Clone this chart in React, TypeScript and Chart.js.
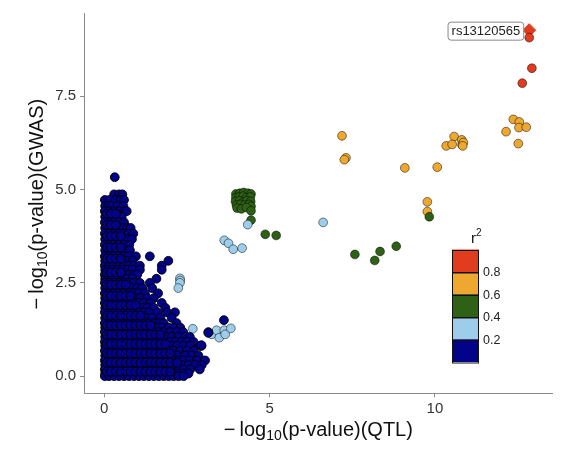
import React, { useEffect, useRef } from "react";
import { Chart, registerables } from "chart.js";

Chart.register(...registerables);

// ---------- data ----------
const xTicks = [0, 5, 10];
const yTicks = [0, 2.5, 5, 7.5];
const legendLabels = ["0.8", "0.6", "0.4", "0.2"];
const leadSnpName = "rs13120565";

const NAVY = "#03038A";
const SKY = "#9DCDEA";
const GREEN = "#2E6116";
const ORANGE = "#EEA82F";
const RED = "#E23C1F";
const legendColors = [RED, ORANGE, GREEN, SKY, NAVY];

// r2 < 0.2 : rows of [GWAS value, QTL values]
const navyRows: [number, number[]][] = [
  [5.33, [0.32]],
  [4.87, [0.3, 0.45, 0.55]],
  [4.72, [0.02, 0.16, 0.34, 0.5, 0.6]],
  [4.56, [0.03, 0.12, 0.22, 0.4, 0.58]],
  [4.42, [0.02, 0.15, 0.3, 0.46, 0.62, 0.68]],
  [4.27, [0.03, 0.12, 0.25, 0.4, 0.53]],
  [4.12, [0.02, 0.15, 0.3, 0.44, 0.6]],
  [3.97, [0.03, 0.12, 0.26, 0.4, 0.56, 0.7, 0.8]],
  [3.82, [0.02, 0.15, 0.3, 0.45, 0.6, 0.74, 0.88]],
  [3.67, [0.03, 0.12, 0.25, 0.41, 0.55, 0.7, 0.84]],
  [3.52, [0.02, 0.15, 0.3, 0.45, 0.6, 0.76]],
  [3.37, [0.03, 0.12, 0.25, 0.4, 0.55, 0.68, 0.78]],
  [3.21, [0.02, 0.15, 0.3, 0.45, 0.6, 0.74, 0.96, 1.38]],
  [3.09, [0.03, 0.12, 0.25, 0.4, 0.55, 0.7, 0.86, 1.94]],
  [2.96, [0.02, 0.15, 0.3, 0.45, 0.6, 0.75, 0.9, 1.08, 1.74]],
  [2.85, [0.03, 0.12, 0.25, 0.4, 0.55, 0.7, 0.85, 1.08, 1.74]],
  [2.72, [0.02, 0.15, 0.3, 0.45, 0.6, 0.75, 0.9, 1.0]],
  [2.61, [0.03, 0.12, 0.25, 0.4, 0.55, 0.7, 0.85, 1.58]],
  [2.5, [0.02, 0.15, 0.3, 0.45, 0.6, 0.75, 0.9, 1.08, 1.38]],
  [2.36, [0.03, 0.12, 0.25, 0.4, 0.55, 0.7, 0.85, 1.0, 1.15, 1.45]],
  [2.22, [0.02, 0.15, 0.3, 0.45, 0.6, 0.75, 0.9, 1.05, 1.23, 1.63]],
  [2.09, [0.03, 0.12, 0.25, 0.4, 0.55, 0.7, 0.93, 1.1, 1.3, 1.5]],
  [1.96, [0.02, 0.15, 0.3, 0.45, 0.6, 0.75, 0.9, 1.05, 1.2, 1.4, 1.74]],
  [1.83, [0.03, 0.12, 0.25, 0.4, 0.55, 0.7, 0.85, 1.0, 1.15, 1.3, 1.5, 1.85]],
  [1.71, [0.02, 0.15, 0.3, 0.45, 0.6, 0.75, 0.9, 1.05, 1.2, 1.36, 1.62, 1.9, 2.14]],
  [1.56, [0.03, 0.12, 0.25, 0.4, 0.55, 0.7, 0.85, 1.0, 1.15, 1.3, 1.45, 1.7, 2.04]],
  [1.42, [0.02, 0.15, 0.3, 0.45, 0.6, 0.75, 0.9, 1.05, 1.2, 1.35, 1.5, 1.66, 1.8, 2.19]],
  [1.3, [0.03, 0.12, 0.25, 0.4, 0.55, 0.7, 0.85, 1.0, 1.15, 1.3, 1.45, 1.6, 1.75, 1.95, 2.1, 2.3]],
  [1.18, [0.02, 0.15, 0.3, 0.45, 0.6, 0.75, 0.9, 1.05, 1.2, 1.35, 1.5, 1.65, 1.8, 2.0, 2.2, 2.39, 3.15]],
  [1.05, [0.03, 0.12, 0.25, 0.4, 0.55, 0.7, 0.85, 1.0, 1.15, 1.3, 1.45, 1.6, 1.75, 1.9, 2.05, 2.25, 2.45, 2.59]],
  [0.92, [0.02, 0.15, 0.3, 0.45, 0.6, 0.75, 0.9, 1.05, 1.2, 1.35, 1.5, 1.65, 1.8, 2.0, 2.15, 2.35, 2.5, 2.7]],
  [0.81, [0.03, 0.12, 0.25, 0.4, 0.55, 0.7, 0.85, 1.0, 1.15, 1.3, 1.45, 1.6, 1.75, 1.9, 2.05, 2.2, 2.4, 2.6, 2.89, 2.94]],
  [0.68, [0.02, 0.15, 0.3, 0.45, 0.6, 0.75, 0.9, 1.05, 1.2, 1.35, 1.5, 1.65, 1.8, 1.95, 2.1, 2.3, 2.5, 2.7]],
  [0.55, [0.03, 0.12, 0.25, 0.4, 0.55, 0.7, 0.85, 1.0, 1.15, 1.3, 1.45, 1.6, 1.75, 1.9, 2.05, 2.2, 2.45, 2.65, 2.85]],
  [0.42, [0.02, 0.15, 0.3, 0.45, 0.6, 0.75, 0.9, 1.05, 1.2, 1.35, 1.5, 1.65, 1.8, 1.95, 2.1, 2.25, 2.4, 2.59, 2.8, 3.05]],
  [0.3, [0.03, 0.12, 0.25, 0.4, 0.55, 0.7, 0.85, 1.0, 1.15, 1.3, 1.45, 1.6, 1.75, 1.9, 2.05, 2.2, 2.35, 2.55, 2.75, 2.95]],
  [0.18, [0.02, 0.15, 0.3, 0.45, 0.6, 0.75, 0.9, 1.05, 1.2, 1.35, 1.5, 1.65, 1.8, 1.95, 2.1, 2.25, 2.4, 2.6, 2.89]],
  [0.07, [0.03, 0.12, 0.25, 0.4, 0.55, 0.7, 0.85, 1.0, 1.15, 1.3, 1.45, 1.6, 1.75, 1.9, 2.05, 2.2, 2.39, 2.55]],
  [0.0, [0.02, 0.15, 0.3, 0.45, 0.6, 0.75, 0.9, 1.05, 1.2, 1.35, 1.5, 1.65, 1.8, 1.95, 2.1, 2.25, 2.4]],
];
// the densest part of the r2 < 0.2 cloud (low QTL values)
const navyDenseRows: [number, number[]][] = [
  [4.35, [0.08, 0.2, 0.35]],
  [4.05, [0.08, 0.2, 0.35]],
  [3.75, [0.08, 0.2, 0.35, 0.5]],
  [3.45, [0.08, 0.2, 0.35, 0.5]],
  [3.15, [0.08, 0.2, 0.35, 0.5]],
  [2.78, [0.08, 0.2, 0.35, 0.5]],
  [2.45, [0.08, 0.2, 0.35, 0.5, 0.65]],
  [2.15, [0.08, 0.2, 0.35, 0.5, 0.65, 0.8]],
  [1.9, [0.08, 0.2, 0.35, 0.5, 0.65, 0.8, 0.95]],
  [1.62, [0.08, 0.2, 0.35, 0.5, 0.65, 0.8, 0.95, 1.1]],
  [1.36, [0.08, 0.2, 0.35, 0.5, 0.65, 0.8, 0.95, 1.1, 1.25, 1.4]],
  [1.11, [0.08, 0.2, 0.35, 0.5, 0.65, 0.8, 0.95, 1.1, 1.25, 1.4, 1.55, 1.7]],
  [0.86, [0.08, 0.2, 0.35, 0.5, 0.65, 0.8, 0.95, 1.1, 1.25, 1.4, 1.55, 1.7, 1.85]],
  [0.61, [0.08, 0.2, 0.35, 0.5, 0.65, 0.8, 0.95, 1.1, 1.25, 1.4, 1.55, 1.7, 1.85, 2.0]],
  [0.36, [0.08, 0.2, 0.35, 0.5, 0.65, 0.8, 0.95, 1.1, 1.25, 1.4, 1.55, 1.7, 1.85, 2.0, 2.2]],
  [0.12, [0.08, 0.2, 0.35, 0.5, 0.65, 0.8, 0.95, 1.1, 1.25, 1.4, 1.55, 1.7, 1.85, 2.0]],
];
const navyExtra: [number, number][] = [
  [3.62, 1.5], [3.15, 1.16], [2.94, 0.83],
];

// 0.2 - 0.4
const skyPoints: [number, number][] = [
  [2.29, 2.62], [2.3, 2.56], [2.29, 2.5], [2.24, 2.36],
  [2.68, 1.27], [3.25, 1.12], [3.4, 1.23], [3.48, 1.03], [3.63, 1.23], [3.66, 1.12], [3.83, 1.28],
  [3.63, 3.64], [3.76, 3.56], [3.9, 3.4], [4.17, 3.43], [4.34, 4.06], [6.62, 4.12],
];

// 0.4 - 0.6
const greenPoints: [number, number][] = [
  [3.98, 4.88], [4.1, 4.9], [4.22, 4.92], [4.35, 4.9], [4.44, 4.88],
  [3.98, 4.78], [4.08, 4.8], [4.2, 4.82], [4.3, 4.78], [4.42, 4.8],
  [3.97, 4.68], [4.1, 4.7], [4.2, 4.66], [4.32, 4.7], [4.43, 4.68],
  [4.0, 4.58], [4.12, 4.6], [4.25, 4.58], [4.38, 4.6], [4.44, 4.55],
  [4.02, 4.5], [4.15, 4.48], [4.3, 4.52], [4.44, 4.43], [4.44, 4.18],
  [4.87, 3.8], [5.2, 3.77], [7.58, 3.26], [8.18, 3.1], [8.34, 3.34], [8.83, 3.48], [9.83, 4.27],
];

// 0.6 - 0.8
const orangePoints: [number, number][] = [
  [7.19, 6.44], [7.31, 5.85], [7.26, 5.8], [9.09, 5.58], [10.07, 5.6], [9.77, 4.67], [9.77, 4.41],
  [10.58, 6.42], [10.81, 6.33], [10.34, 6.17], [10.52, 6.21], [10.82, 6.2], [10.86, 6.26], [10.84, 6.17],
  [12.37, 6.88], [12.55, 6.81], [12.54, 6.66], [12.76, 6.67], [12.15, 6.55], [12.52, 6.23],
];

// > 0.8
const redPoints: [number, number][] = [
  [12.85, 9.07], [12.93, 8.25], [12.64, 7.85],
];
const leadPoint: [number, number][] = [[12.85, 9.27]];

// ---------- helpers ----------
const FONT = "'Liberation Sans', Arial, Helvetica, sans-serif";
const toXY = (arr: [number, number][]) => arr.map(([x, y]) => ({ x, y }));

type Part = { t: string; size: number; dy?: number };
function drawParts(ctx: CanvasRenderingContext2D, parts: Part[], cx: number, cy: number) {
  let total = 0;
  const widths = parts.map((p) => {
    ctx.font = `${p.size}px ${FONT}`;
    const w = ctx.measureText(p.t).width;
    total += w;
    return w;
  });
  let x = cx - total / 2;
  ctx.textAlign = "left";
  ctx.textBaseline = "alphabetic";
  parts.forEach((p, i) => {
    ctx.font = `${p.size}px ${FONT}`;
    ctx.fillText(p.t, x, cy + (p.dy || 0));
    x += widths[i];
  });
}

const overlay = {
  id: "overlay",
  afterDraw(chart: any) {
    const ctx: CanvasRenderingContext2D = chart.ctx;
    const ca = chart.chartArea;
    ctx.save();
    ctx.fillStyle = "#111";
    // x title
    drawParts(
      ctx,
      [
        { t: "\u2212", size: 20 },
        { t: "\u2009log", size: 20 },
        { t: "10", size: 14, dy: 4 },
        { t: "(p-value)(QTL)", size: 20 },
      ],
      (ca.left + ca.right) / 2,
      436
    );
    // y title
    ctx.save();
    ctx.translate(43, (ca.top + ca.bottom) / 2 + 1);
    ctx.rotate(-Math.PI / 2);
    drawParts(
      ctx,
      [
        { t: "\u2212", size: 20 },
        { t: "\u2009log", size: 20 },
        { t: "10", size: 14, dy: 4 },
        { t: "(p-value)(GWAS)", size: 20 },
      ],
      0,
      0
    );
    ctx.restore();

    // lead SNP label
    const xs = chart.scales.x;
    const ys = chart.scales.y;
    const px = xs.getPixelForValue(leadPoint[0][0]);
    const py = ys.getPixelForValue(leadPoint[0][1]);
    ctx.font = `13px ${FONT}`;
    const tw = ctx.measureText(leadSnpName).width;
    const bw = tw + 7;
    const bh = 18;
    const bx = px - 6 - bw;
    const by = py - 8.5;
    ctx.beginPath();
    (ctx as any).roundRect(bx + 0.5, by + 0.5, bw, bh, 3);
    ctx.fillStyle = "#fff";
    ctx.fill();
    ctx.strokeStyle = "#8a8a8a";
    ctx.lineWidth = 1;
    ctx.stroke();
    ctx.fillStyle = "#222";
    ctx.textAlign = "center";
    ctx.textBaseline = "middle";
    ctx.fillText(leadSnpName, bx + bw / 2 + 0.5, by + bh / 2 + 1);

    // legend
    const lx = 452;
    const ltop = 249.5;
    const lw = 27;
    const lh = 22.5;
    legendColors.forEach((c, i) => {
      ctx.fillStyle = c;
      ctx.fillRect(lx, ltop + i * lh, lw, lh);
    });
    ctx.strokeStyle = "#111";
    ctx.lineWidth = 1;
    legendColors.forEach((_, i) => {
      ctx.strokeRect(lx + 0.5, Math.round(ltop + i * lh) + 0.5, lw - 1, lh);
    });
    ctx.fillStyle = "#222";
    ctx.font = `12.5px ${FONT}`;
    ctx.textAlign = "left";
    ctx.textBaseline = "middle";
    legendLabels.forEach((l, i) => {
      ctx.fillText(l, lx + lw + 4, ltop + (i + 1) * lh + 1);
    });
    // r^2 title
    ctx.textBaseline = "alphabetic";
    ctx.font = `15px ${FONT}`;
    ctx.fillStyle = "#111";
    ctx.fillText("r", 471, 243);
    ctx.font = `10px ${FONT}`;
    ctx.fillText("2", 476, 236);
    ctx.restore();
  },
};

export default function App() {
  const ref = useRef<HTMLCanvasElement>(null);
  useEffect(() => {
    const navyData: { x: number; y: number }[] = [];
    navyRows.forEach(([y, xsArr]) => xsArr.forEach((x) => navyData.push({ x, y })));
    navyDenseRows.forEach(([y, xsArr]) => xsArr.forEach((x) => navyData.push({ x, y })));
    navyExtra.forEach(([x, y]) => navyData.push({ x, y }));

    const border = "rgba(0,0,0,0.7)";
    const ds = (data: any[], color: string, extra: any = {}) => ({
      data,
      backgroundColor: color,
      borderColor: border,
      borderWidth: 0.7,
      pointRadius: 4.4,
      pointStyle: "circle",
      ...extra,
    });

    const chart = new Chart(ref.current as HTMLCanvasElement, {
      type: "scatter",
      data: {
        datasets: [
          ds(navyData, NAVY, { borderColor: "rgba(0,0,0,0.9)", borderWidth: 1 }),
          ds(toXY(skyPoints), SKY),
          ds(toXY(greenPoints), GREEN),
          ds(toXY(orangePoints), ORANGE),
          ds(toXY(redPoints), RED),
          ds(toXY(leadPoint), RED, { pointStyle: "rectRot", pointRadius: 6.5, borderColor: RED, borderWidth: 1 }),
        ],
      },
      options: {
        animation: false,
        responsive: false,
        devicePixelRatio: 1,
        events: [],
        layout: { padding: { left: 0, top: 8, right: 35.3, bottom: 0 } },
        plugins: { legend: { display: false }, tooltip: { enabled: false } },
        scales: {
          x: {
            type: "linear",
            min: -0.61,
            max: 13.56,
            afterBuildTicks: (s: any) => {
              s.ticks = xTicks.map((v) => ({ value: v }));
            },
            afterFit: (s: any) => {
              s.height = 56.7;
            },
            ticks: {
              callback: (v: any) => String(v),
              color: "#333",
              font: { size: 15, family: FONT },
              padding: 3,
              maxRotation: 0,
            },
            grid: { drawOnChartArea: false, drawTicks: true, tickLength: 4, color: "#8a8a8a" },
            border: { display: true, color: "#8a8a8a", width: 1 },
          },
          y: {
            type: "linear",
            min: -0.46,
            max: 9.73,
            afterBuildTicks: (s: any) => {
              s.ticks = yTicks.map((v) => ({ value: v }));
            },
            afterFit: (s: any) => {
              s.width = 84;
            },
            ticks: {
              callback: (v: any) => Number(v).toFixed(1),
              color: "#333",
              font: { size: 15, family: FONT },
              padding: 4,
            },
            grid: { drawOnChartArea: false, drawTicks: true, tickLength: 4, color: "#8a8a8a" },
            border: { display: true, color: "#8a8a8a", width: 1 },
          },
        },
      },
      plugins: [overlay],
    } as any);
    return () => chart.destroy();
  }, []);

  return (
    <div style={{ position: "fixed", left: 0, top: 0, width: 588, height: 450, background: "#fff" }}>
      <canvas ref={ref} width={588} height={450} style={{ display: "block", width: 588, height: 450 }} />
    </div>
  );
}
